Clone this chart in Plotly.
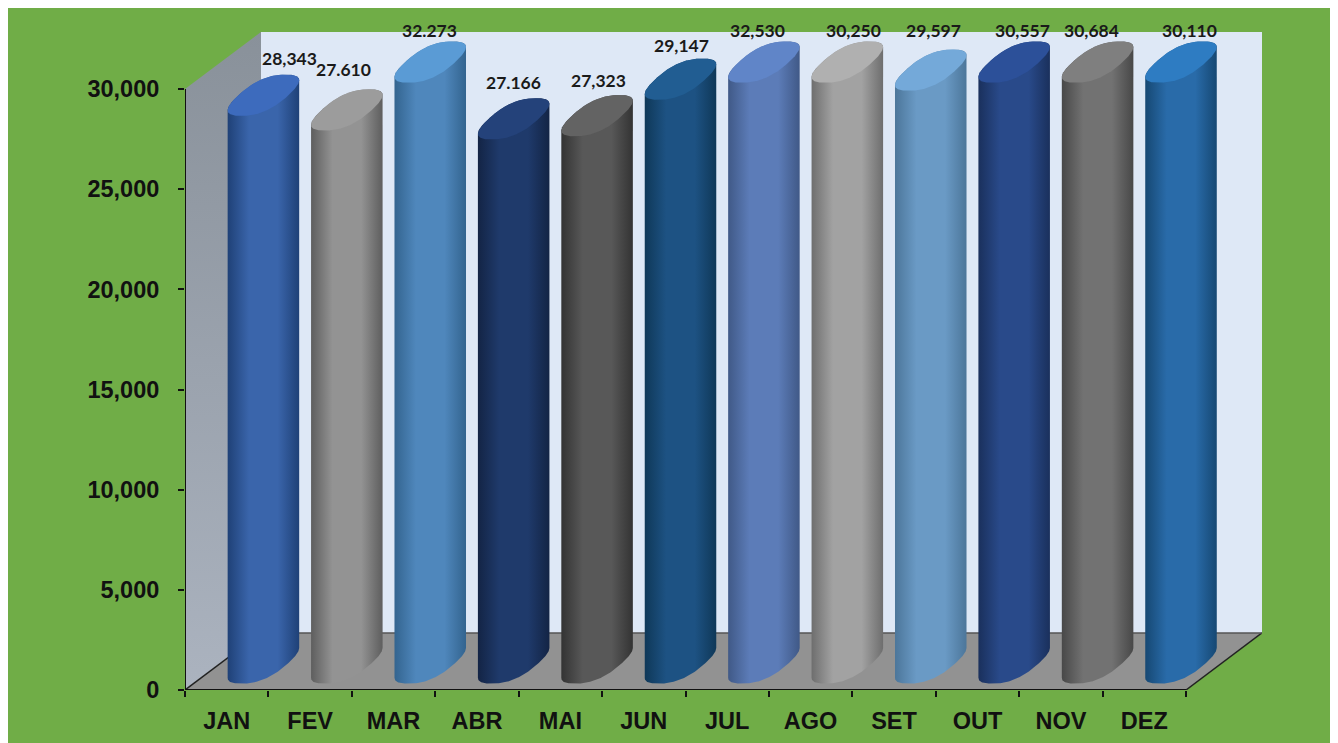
# Grafico mensal com cilindros 3D (JAN-DEZ)
import numpy as np
import plotly.graph_objects as go

# Dados
meses = ["JAN", "FEV", "MAR", "ABR", "MAI", "JUN", "JUL", "AGO", "SET", "OUT", "NOV", "DEZ"]
valores = [28343, 27610, 32273, 27166, 27323, 29147, 32530, 30250, 29597, 30557, 30684, 30110]
rotulos = ["28,343", "27.610", "32.273", "27.166", "27,323", "29,147",
           "32,530", "30,250", "29,597", "30,557", "30,684", "30,110"]
y_ticks = [0, 5000, 10000, 15000, 20000, 25000, 30000]
y_labels = ["0", "5,000", "10,000", "15,000", "20,000", "25,000", "30,000"]

# Cores dos cilindros
cor_borda = ["#1F4177", "#5E5E5E", "#33648F", "#132445", "#333333", "#0F3858",
             "#405987", "#6E6E6E", "#4C769A", "#1A305C", "#484848", "#164873"]
cor_meio = ["#3A65AB", "#939393", "#4F87BC", "#1F3A6B", "#585858", "#1D5283",
            "#5C7CB8", "#A2A2A2", "#6A9AC5", "#294A8A", "#727272", "#296BA9"]
cor_topo = ["#3D6BBD", "#9C9C9C", "#5A9BD5", "#24427A", "#636363", "#215D92",
            "#6085C8", "#B0B0B0", "#74A9D9", "#2C5099", "#7F7F7F", "#2E7CC2"]

# Deslocamento dos rotulos em pixels (em relacao ao topo do cilindro)
rot_dx = [26, -3, -1, 0, 1, 1, -6, 6, 3, 8, -6, 8]
rot_dy = [37, 40, 32, 36, 35, 34, 32, 32, 40, 32, 32, 32]

# Geometria do grafico em unidades dos eixos
Y_MAX = 30000
PROF_X = 0.911   # profundidade do "3D" em categorias
PROF_Y = 2850    # profundidade do "3D" em valor
CENTRO_X = 0.44
CENTRO_Y = 1350
RAIO_U = 0.30
RAIO_DX = 0.265
RAIO_DY = 1030
EXPOENTE = 0.8  # elipse um pouco "quadrada", como no original
N = len(meses)


def elipse(cx, cy, t):
    c, s = np.cos(t), np.sin(t)
    u = np.sign(c) * np.abs(c) ** EXPOENTE
    v = np.sign(s) * np.abs(s) ** EXPOENTE
    return cx + RAIO_U * u + RAIO_DX * v, cy + RAIO_DY * v


def area(x, y, **kw):
    return go.Scatter(x=x, y=y, mode="lines", fill="toself", line=dict(width=0),
                      hoverinfo="skip", showlegend=False, **kw)


def aresta(x, y, cor, largura=1.5):
    return go.Scatter(x=x, y=y, mode="lines", line=dict(color=cor, width=largura),
                      hoverinfo="skip", showlegend=False)


fig = go.Figure()

# Parede lateral, parede de fundo e piso
fig.add_trace(area([0, PROF_X, PROF_X, 0, 0], [0, PROF_Y, Y_MAX + PROF_Y, Y_MAX, 0],
                   fillgradient=dict(type="vertical",
                                     colorscale=[[0, "#ABB3BF"], [0.5, "#9AA2AD"], [1, "#89919A"]])))
fig.add_trace(area([PROF_X, N + PROF_X, N + PROF_X, PROF_X, PROF_X],
                   [PROF_Y, PROF_Y, Y_MAX + PROF_Y, Y_MAX + PROF_Y, PROF_Y],
                   fillcolor="#DEE8F6"))
fig.add_trace(area([0, N, N + PROF_X, PROF_X, 0], [0, 0, PROF_Y, PROF_Y, 0],
                   fillcolor="#929292"))
fig.add_trace(aresta([0, PROF_X], [0, PROF_Y], "#222222"))
fig.add_trace(aresta([N, N + PROF_X], [0, PROF_Y], "#222222"))
fig.add_trace(aresta([PROF_X, N + PROF_X], [PROF_Y, PROF_Y], "#555555"))

# Contorno percorrido a partir do ponto mais a direita, passando por baixo
t_volta = np.linspace(0, 2 * np.pi, 240)
t_max = t_volta[np.argmax(elipse(0, 0, t_volta)[0])]
t_volta = t_max - t_volta
i_min = np.argmin(elipse(0, 0, t_volta)[0])

# Cilindros
for i, v in enumerate(valores):
    cx = i + 0.5 + CENTRO_X
    base = CENTRO_Y
    topo = min(v, Y_MAX) + CENTRO_Y

    xb, yb = elipse(cx, base, t_volta[:i_min + 1])
    xt, yt = elipse(cx, topo, t_volta[i_min:])
    fig.add_trace(area(np.concatenate([xb, xt]), np.concatenate([yb, yt]),
                       fillgradient=dict(type="horizontal",
                                         colorscale=[[0, cor_borda[i]], [0.3, cor_meio[i]],
                                                     [0.7, cor_meio[i]], [1, cor_borda[i]]])))
    xc, yc = elipse(cx, topo, t_volta)
    fig.add_trace(area(xc, yc, fillcolor=cor_topo[i]))

    fig.add_annotation(x=cx, y=topo, text=rotulos[i], showarrow=False, xanchor="center",
                       yanchor="middle", xshift=rot_dx[i], yshift=rot_dy[i],
                       font=dict(family="Lato", size=17.5, weight=700, color="#1a1a1a"))

# A pagina tem margem de 8 px: a figura comeca em (8, 8)
W, H = 1330, 735
L, R, T, B = 177, 76, 24, 53

shapes = [
    dict(type="line", x0=0, x1=0, y0=0, y1=Y_MAX, line=dict(color="#111111", width=2)),
    dict(type="line", x0=0, x1=N, y0=0, y1=0, line=dict(color="#111111", width=2)),
]

fonte_eixo = dict(family="Liberation Sans", size=23.5, weight=700, color="#111111")

fig.update_layout(
    width=W, height=H, autosize=False,
    margin=dict(l=L, r=R, t=T, b=B, pad=0),
    paper_bgcolor="#70AD47", plot_bgcolor="rgba(0,0,0,0)",
    showlegend=False, shapes=shapes,
    xaxis=dict(range=[0, N + PROF_X], tickmode="array", tickvals=[i + 0.5 for i in range(N)],
               ticktext=meses, ticks="", showgrid=False, zeroline=False, showline=False,
               automargin=False, tickfont=fonte_eixo, ticklabelstandoff=14,
               minor=dict(tickmode="array", tickvals=list(range(N + 1)), ticks="outside",
                          ticklen=6, tickwidth=2, tickcolor="#111111", showgrid=False)),
    yaxis=dict(range=[0, Y_MAX + PROF_Y], tickmode="array", tickvals=y_ticks, ticktext=y_labels,
               ticks="outside", ticklen=6, tickwidth=2, tickcolor="#111111",
               showgrid=False, zeroline=False, showline=False, automargin=False,
               tickfont=fonte_eixo, ticklabelstandoff=14),
)

fig.write_html("out.html")
